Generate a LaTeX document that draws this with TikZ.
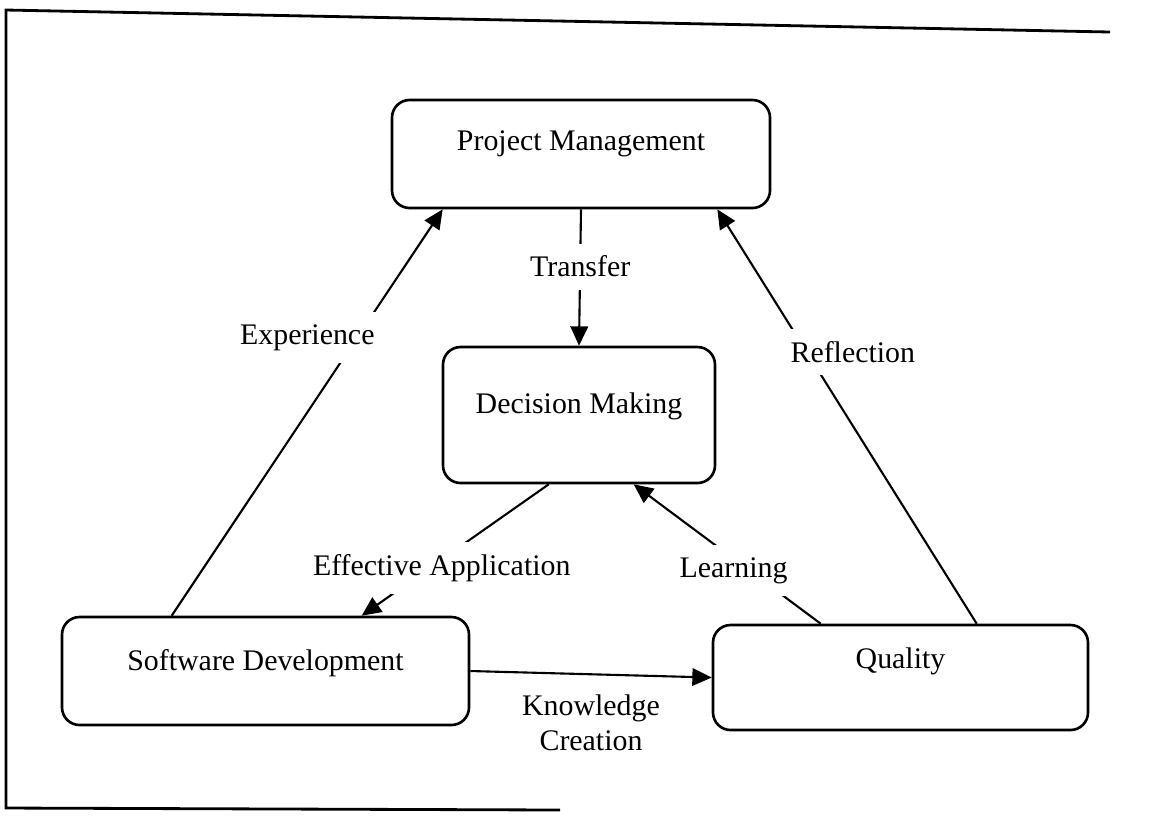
\documentclass[tikz,border=0pt]{standalone}
\usepackage{fontspec}
\setmainfont{Liberation Serif}
\usetikzlibrary{arrows.meta}

\begin{document}
\begin{tikzpicture}
[box/.style={rectangle,rounded corners=5pt,draw=black,line width=0.75pt,inner sep=0pt,
             text height=0.22cm},
 lbl/.style={fill=white,inner sep=3.5pt},
 arr/.style={-{Triangle[length=5.5pt,width=5pt]},line width=0.6pt},
 every node/.style={font=\fontsize{8.5}{10}\selectfont}]
	\useasboundingbox (0,0) rectangle (11.55,-8.36);
	% frame, open on the right as in the scan
	\draw[line width=0.8pt] (11.10,-0.32) -- (0.06,-0.10) -- (0.06,-8.08) -- (5.60,-8.10);
	% the four boxes
	\node[box,minimum width=3.78cm,minimum height=1.08cm,text depth=0.30cm] (pm) at (5.81,-1.54) {Project Management};
	\node[box,minimum width=2.72cm,minimum height=1.36cm,text depth=0.26cm] (dm) at (5.79,-4.15) {Decision Making};
	\node[box,minimum width=4.07cm,minimum height=1.08cm,text depth=0.24cm] (sd) at (2.655,-6.71) {Software Development};
	\node[box,minimum width=3.75cm,minimum height=1.05cm,text depth=0.40cm] (q) at (9.005,-6.775) {Quality};
	% connectors
	\draw[arr] ([xshift=1.11cm]sd.north west) -- node[lbl,pos=0.685,xshift=-0.50cm]{Experience} ([xshift=0.52cm]pm.south west);
	\draw[arr] ([xshift=2.65cm]q.north west) -- node[lbl,pos=0.655,xshift=0.46cm]{Reflection} ([xshift=-0.54cm]pm.south east);
	\draw[arr] (pm.south) -- node[lbl,pos=0.42]{Transfer} (dm.north);
	\draw[arr] ([xshift=1.07cm]dm.south west) -- node[lbl,pos=0.636,xshift=0.12cm]{Effective Application} ([xshift=3.01cm]sd.north west);
	\draw[arr] ([xshift=1.09cm]q.north west) -- node[lbl,pos=0.38,xshift=-0.16cm]{Learning} ([xshift=1.92cm]dm.south west);
	\draw[arr] (sd.east) -- node[below=0.08cm,align=center]{Knowledge\\Creation} (q.west);
\end{tikzpicture}
\end{document}
